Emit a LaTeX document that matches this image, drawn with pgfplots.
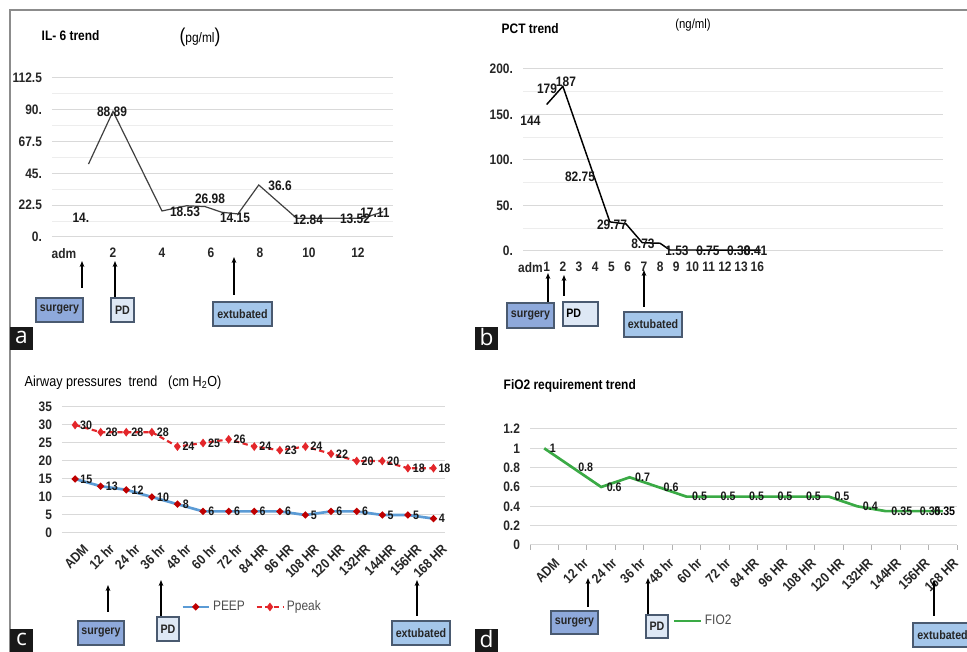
\documentclass[border=0pt]{standalone}
\usepackage{fontspec}
\setmainfont{Liberation Sans}[FakeStretch=0.87]
\newfontfamily\letterfont{Open Sans}
\usepackage{pgfplots}
\pgfplotsset{compat=1.18}
\usetikzlibrary{arrows.meta}
\definecolor{gridc}{HTML}{D9D9D9}
\definecolor{gridm}{HTML}{EDEDED}
\definecolor{surg}{HTML}{8EA9DB}
\definecolor{pdc}{HTML}{DEE8F5}
\definecolor{extc}{HTML}{A4C6EA}
\definecolor{boxb}{HTML}{4A5A70}
\definecolor{peep}{HTML}{5B9BD5}
\definecolor{ppeak}{HTML}{E3262A}
\definecolor{fio}{HTML}{3AAA45}
\newcommand\fb{\bfseries\fontsize{10.3}{11}\selectfont}
\newcommand\fbs{\bfseries\fontsize{9.2}{10}\selectfont}
\tikzset{
  arr/.style={-{Stealth[length=4.5pt,width=3.5pt]}, line width=1pt, black},
  lab/.style={font=\fb, inner sep=0pt, text=black!90},
}
\newcommand\annbox[6]{%
  \draw[draw=boxb, line width=0.9pt, fill=#5] (#1,#2) rectangle (#3,#4);
  \node[font=\fbs, inner sep=0pt, text=black!85] at ({(#1+#3)/2},{(#2+#4)/2}) {#6};}
\newcommand\plabel[3]{%
  \fill[black!90] (#1,#2) rectangle ({#1+23},{#2+23});
  \node[text=white, font=\letterfont\fontsize{17}{17}\selectfont, inner sep=0pt] at ({#1+11.5},{#2+12.5}) {#3};}
\pgfplotsset{
  panel/.style={
    scale only axis, clip=false, anchor=south west,
    axis line style={draw=none},
    major tick length=0pt, minor tick length=0pt,
    ymajorgrids, major grid style={draw=gridc, line width=0.75pt},
    minor grid style={draw=gridm, line width=0.6pt},
    ticklabel style={font=\fb, text=black!85},
    /pgf/number format/assume math mode=true,
  },
  legend image code/.code={\draw[mark repeat=2,mark phase=2,#1] plot coordinates {(0cm,0cm) (0.35cm,0cm) (0.7cm,0cm)};},
}
\begin{document}
\begin{tikzpicture}[x=0.75pt,y=0.75pt]
\path[use as bounding box] (0,0) rectangle (967,652);
\draw[black!45, line width=1.5pt] (10,0) -- (10,642) -- (967,642);

% ---------------- panel a : IL-6
\node[anchor=west, font=\fb] at (37,616) {IL- 6 trend};
\node[font=\fontsize{10.3}{11}\selectfont] at (200,615) {{\fontsize{15}{15}\selectfont(}pg/ml{\fontsize{15}{15}\selectfont)}};
\begin{axis}[panel, at={(39pt,311.25pt)}, width=255.75pt, height=119.25pt,
  xmin=-0.49, xmax=13.43, ymin=0, ymax=112.5,
  ytick={0,22.5,45,67.5,90,112.5}, yticklabels={0.,22.5,45.,67.5,90.,112.5},
  minor ytick={11.25,33.75,56.25,78.75,101.25}, yminorgrids,
  xtick={0,2,4,6,8,10,12}, xticklabels={adm,2,4,6,8,10,12},
  xticklabel style={yshift=-5pt}, yticklabel style={xshift=-4pt}]
\addplot[black!75, line width=0.9pt] coordinates {(1,51.6)(2,88.89)(4,18.4)(5,22.1)(5.76,21.5)(6.44,17.5)(7.1,16.3)(7.95,36.8)(9.5,13.2)(12.2,13.2)(13.03,17.9)};
\node[lab] at (axis cs:1.96,88.4) {88.89};
\node[lab] at (axis cs:0.69,13.4) {14.};
\node[lab] at (axis cs:4.94,17.7) {18.53};
\node[lab] at (axis cs:5.96,26.9) {26.98};
\node[lab] at (axis cs:6.98,13.4) {14.15};
\node[lab] at (axis cs:8.82,36.1) {36.6};
\node[lab] at (axis cs:9.96,12.0) {12.84};
\node[lab] at (axis cs:11.88,12.7) {13.52};
\node[lab] at (axis cs:12.69,17.0) {17.11};
\end{axis}
\draw[arr] (82,364) -- (82,391);
\draw[arr] (115,354) -- (115,391);
\draw[arr] (234,357) -- (234,395);
\annbox{36}{330}{83}{354}{surg}{surgery}
\annbox{111}{330}{134}{354}{pdc}{PD}
\annbox{213}{326}{272}{350}{extc}{extubated}
\plabel{10}{302}{a}

% ---------------- panel b : PCT
\node[anchor=west, font=\fb] at (497,623) {PCT trend};
\node[font=\fontsize{9.8}{11}\selectfont] at (693,627) {(ng/ml)};
\begin{axis}[panel, at={(392.25pt,300.75pt)}, width=315pt, height=136.5pt,
  xmin=-0.46, xmax=25.46, ymin=0, ymax=200,
  ytick={0,50,100,150,200}, yticklabels={0.,50.,100.,150.,200.},
  minor ytick={25,75,125,175}, yminorgrids,
  xtick={0,...,14}, xticklabels={adm,1,2,3,4,5,6,7,8,9,10,11,12,13,16},
  xticklabel style={yshift=-5pt}, yticklabel style={xshift=-4pt}]
\addplot[black, line width=1.1pt] coordinates {(1,161)(2,181)(4.9,32)(5.9,29.7)(6.9,9.1)(8,8.5)(8.6,1.1)(14.2,1)};
\node[lab] at (axis cs:0,142.9) {144};
\node[lab] at (axis cs:1.02,178) {179};
\node[lab] at (axis cs:2.19,185.7) {187};
\node[lab] at (axis cs:3.06,81.3) {82.75};
\node[lab] at (axis cs:5.03,28.6) {29.77};
\node[lab] at (axis cs:6.94,8.2) {8.73};
\node[lab] at (axis cs:9.04,0) {1.53};
\node[lab] at (axis cs:10.95,0) {0.75};
\node[lab] at (axis cs:12.85,0) {0.38};
\node[lab] at (axis cs:13.9,0) {0.41};
\end{axis}
\draw[arr] (548,350) -- (548,379);
\draw[arr] (564,356) -- (564,377);
\draw[arr] (644,345) -- (644,382);
\annbox{507}{324}{554}{349}{surg}{surgery}
\draw[draw=boxb, line width=0.9pt, fill=pdc] (563,326) rectangle (598,350);
\node[font=\fbs, anchor=west, inner sep=0pt] at (566,339) {PD};
\annbox{624}{315}{682}{340}{extc}{extubated}
\plabel{475}{302}{b}

% ---------------- panel c : Airway pressures
\node[anchor=west, font=\fontsize{10.9}{12}\selectfont] at (20,269) {Airway pressures\ \ trend\ \ \ (cm H\textsubscript{2}O)};
\begin{axis}[panel, at={(46.5pt,89.25pt)}, width=287.25pt, height=94.5pt,
  xmin=-0.51, xmax=14.45, ymin=0, ymax=35,
  ytick={0,5,10,15,20,25,30,35}, yticklabels={0,5,10,15,20,25,30,35},
  xtick={0,...,14},
  xticklabels={ADM,12 hr,24 hr,36 hr,48 hr,60 hr,72 hr,84 HR,96 HR,108 HR,120 HR,132HR,144HR,156HR,168 HR},
  xticklabel style={rotate=45, anchor=north east, yshift=-6pt, xshift=2pt},
  yticklabel style={xshift=-4pt},
  nodes near coords, every node near coord/.append style={anchor=west, font=\bfseries\fontsize{9.2}{10}\selectfont, xshift=2pt, inner sep=1pt, text=black!90},
  legend style={draw=none, fill=none, at={(0.30,-0.587)}, anchor=west, legend columns=2,
    font=\fontsize{10.3}{11}\selectfont, text=black!70,
    /tikz/every even column/.append style={column sep=6pt}}]
\addplot[peep, line width=2pt, mark=*, mark size=1.4pt, mark options={fill=red!75!black, draw=red!75!black}] coordinates {(0,15)(1,13)(2,12)(3,10)(4,8)(5,6)(6,6)(7,6)(8,6)(9,5)(10,6)(11,6)(12,5)(13,5)(14,4)};
\addlegendentry{PEEP}
\addplot[ppeak, line width=1.6pt, dash pattern=on 4pt off 2.5pt, mark=diamond*, mark size=2pt, mark options={solid, fill=ppeak}] coordinates {(0,30)(1,28)(2,28)(3,28)(4,24)(5,25)(6,26)(7,24)(8,23)(9,24)(10,22)(11,20)(12,20)(13,18)(14,18)};
\addlegendentry{Ppeak}
\end{axis}
\draw[arr] (108,40) -- (108,67);
\draw[arr] (161,35) -- (161,72);
\draw[arr] (417,36) -- (417,72);
\annbox{78}{7}{124}{31}{surg}{surgery}
\annbox{157}{11}{179}{35}{pdc}{PD}
\annbox{392}{7}{450}{31}{extc}{extubated}
\plabel{10}{0}{c}

% ---------------- panel d : FiO2
\node[anchor=west, font=\fb] at (499,266) {FiO2 requirement trend};
\begin{axis}[panel, at={(397.5pt,80.25pt)}, width=320.25pt, height=87pt,
  xmin=-0.5, xmax=14.5, ymin=0, ymax=1.2,
  ytick={0,0.2,0.4,0.6,0.8,1,1.2}, yticklabels={0,0.2,0.4,0.6,0.8,1,1.2},
  xtick={0,...,14},
  xticklabels={ADM,12 hr,24 hr,36 hr,48 hr,60 hr,72 hr,84 HR,96 HR,108 HR,120 HR,132HR,144HR,156HR,168 HR},
  minor xtick={-0.5,0.5,...,14.5}, minor tick length=3.75pt, tick align=outside, tick pos=left,
  minor tick style={draw=black!30, line width=0.75pt},
  xticklabel style={rotate=45, anchor=north east, yshift=-8pt, xshift=2pt},
  yticklabel style={xshift=-4pt},
  legend style={draw=none, fill=none, at={(0.325,-0.655)}, anchor=west,
    font=\fontsize{10.3}{11}\selectfont, text=black!70}]
\addplot[fio, line width=2pt] coordinates {(0,1)(1,0.8)(2,0.6)(3,0.7)(4,0.6)(5,0.5)(6,0.5)(7,0.5)(8,0.5)(9,0.5)(10,0.5)(11,0.4)(12,0.35)(13,0.35)(14,0.35)};
\addlegendentry{FIO2}
\addplot[draw=none, forget plot, nodes near coords, every node near coord/.append style={anchor=west, font=\bfseries\fontsize{9.2}{10}\selectfont, xshift=3pt, inner sep=1pt, text=black!90}] coordinates {(0,1)(1,0.8)(2,0.6)(3,0.7)(4,0.6)(5,0.5)(6,0.5)(7,0.5)(8,0.5)(9,0.5)(10,0.5)(11,0.4)(12,0.35)(13,0.35)};
\node[font=\bfseries\fontsize{9.2}{10}\selectfont, anchor=west, inner sep=1pt] at (axis cs:13.65,0.35) {0.35};
\end{axis}
\draw[arr] (588,45) -- (588,74);
\draw[arr] (648,37) -- (648,74);
\draw[arr] (934,36) -- (934,72);
\annbox{551}{18}{598}{41}{surg}{surgery}
\annbox{646}{14}{668}{37}{pdc}{PD}
\annbox{913}{5}{972}{29}{extc}{extubated}
\plabel{475}{0}{d}
\end{tikzpicture}
\end{document}
